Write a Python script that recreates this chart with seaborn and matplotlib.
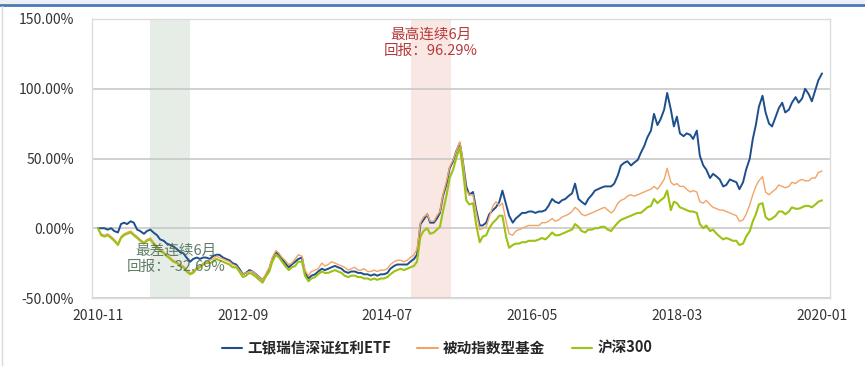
import pandas as pd
import matplotlib.pyplot as plt
import matplotlib.dates as mdates
from matplotlib.lines import Line2D
from matplotlib.patches import Rectangle
from matplotlib.ticker import FuncFormatter
import seaborn as sns

# half-monthly samples (1st and 15th), 2010-11 .. 2020-01
dates = pd.date_range("2010-11-01", "2020-01-01", freq="SMS")

# cumulative return (%)
etf = [0, 0, 0, -1, 0, -2, -3, 3, 4, 3,
       5, 4, -1, -2, -4, -2, -1, -3, -5, -8,
       -9, -11, -12, -13, -15, -17, -18, -21, -24, -22,
       -21, -22, -21, -21, -22, -20, -19, -19, -21, -22,
       -23, -25, -26, -29, -33, -32, -30, -31, -33, -35,
       -37, -34, -29, -22, -17, -19, -22, -25, -28, -26,
       -24, -22, -21, -32, -36, -34, -33, -31, -29, -30,
       -29, -28, -27, -28, -29, -31, -32, -31, -31, -32,
       -32, -33, -33, -34, -33, -34, -33, -33, -32, -29,
       -27, -26, -26, -26, -26, -24, -22, -19, 3, 6,
       10, 4, 4, 7, 11, 23, 32, 43, 48, 55,
       61, 48, 30, 24, 26, 14, 2, 2, 4, 10,
       13, 15, 19, 27, 17, 9, 4, 7, 9, 11,
       11, 12, 12, 11, 12, 12, 13, 16, 21, 19,
       18, 20, 21, 23, 25, 32, 21, 19, 17, 21,
       24, 27, 28, 29, 30, 30, 30, 32, 38, 45,
       47, 48, 45, 47, 49, 54, 59, 65, 70, 82,
       74, 78, 85, 97, 85, 73, 80, 68, 66, 68,
       67, 64, 70, 52, 45, 42, 36, 39, 37, 35,
       30, 31, 35, 34, 33, 28, 33, 42, 50, 64,
       74, 87, 95, 83, 75, 73, 80, 86, 90, 83,
       85, 90, 94, 90, 93, 100, 96, 91, 99, 106,
       111]
passive = [0, -4, -5, -4, -6, -8, -11, -6, -4, -3,
           -2, -4, -6, -8, -10, -8, -7, -10, -13, -15,
           -17, -19, -21, -23, -24, -26, -27, -30, -32, -31,
           -28, -27, -25, -24, -23, -22, -20, -21, -22, -23,
           -24, -26, -27, -30, -33, -32, -31, -31, -33, -35,
           -37, -33, -28, -21, -16, -18, -21, -23, -26, -25,
           -22, -19, -20, -30, -34, -31, -30, -29, -25, -27,
           -26, -24, -25, -26, -27, -28, -30, -29, -28, -30,
           -30, -29, -31, -31, -30, -31, -30, -30, -29, -26,
           -24, -23, -23, -24, -23, -21, -19, -15, 4, 8,
           10, 5, 5, 9, 12, 24, 34, 44, 49, 55,
           62, 49, 27, 24, 24, 12, -1, 0, 1, 8,
           16, 19, 16, 18, 5, -4, -5, -2, -1, 0,
           1, 2, 2, 2, 2, 4, 4, 5, 7, 5,
           6, 8, 9, 10, 12, 15, 13, 10, 9, 10,
           11, 12, 13, 14, 15, 13, 11, 13, 18, 20,
           21, 23, 24, 23, 24, 25, 26, 27, 28, 30,
           28, 31, 35, 43, 33, 31, 32, 30, 30, 28,
           26, 27, 26, 19, 18, 20, 17, 15, 14, 13,
           13, 12, 11, 10, 9, 5, 6, 10, 17, 24,
           30, 34, 37, 26, 24, 26, 28, 31, 30, 29,
           30, 33, 32, 34, 35, 34, 34, 36, 36, 40,
           41]
hs300 = [0, -5, -6, -5, -7, -9, -12, -7, -5, -4,
         -3, -5, -7, -9, -11, -9, -8, -11, -14, -16,
         -18, -20, -22, -24, -25, -27, -28, -31, -33, -32,
         -29, -28, -26, -25, -25, -24, -22, -23, -24, -25,
         -26, -28, -28, -31, -35, -34, -32, -33, -35, -37,
         -39, -35, -31, -24, -19, -21, -24, -27, -30, -28,
         -27, -24, -24, -34, -38, -36, -35, -33, -31, -32,
         -32, -31, -30, -31, -32, -34, -35, -34, -34, -35,
         -35, -36, -36, -37, -36, -37, -36, -36, -35, -33,
         -31, -30, -29, -30, -29, -28, -27, -24, -6, -2,
         0, -4, -3, -1, 1, 12, 24, 36, 42, 50,
         58, 42, 20, 17, 18, 3, -10, -6, -5, 0,
         4, 6, 9, 9, -6, -14, -12, -11, -11, -10,
         -10, -9, -9, -9, -8, -7, -8, -6, -3, -5,
         -5, -4, -3, -2, -1, 3, 1, -2, -3, -1,
         -1, 0, 0, 1, 1, -1, -2, 1, 4, 6,
         7, 8, 9, 10, 11, 11, 13, 15, 16, 21,
         18, 20, 22, 27, 13, 19, 18, 15, 14, 13,
         12, 12, 11, 3, 0, 2, -2, -1, -4, -6,
         -8, -7, -8, -9, -9, -12, -11, -6, -2, 5,
         10, 17, 18, 8, 6, 7, 9, 12, 12, 10,
         12, 15, 14, 14, 15, 16, 16, 15, 17, 19,
         20]

names = ["工银瑞信深证红利ETF", "被动指数型基金", "沪深300"]
colors = ["#1d4f8c", "#f2a467", "#9cc214"]
widths = [1.4, 1.0, 1.5]
tick_dates = ["2010-11", "2012-09", "2014-07", "2016-05", "2018-03", "2020-01"]

assert len(etf) == len(passive) == len(hs300) == len(dates)

df = pd.DataFrame({"date": dates, names[0]: etf, names[1]: passive, names[2]: hs300})
long_df = df.melt(id_vars="date", var_name="series", value_name="ret")

sns.set_style("white")
plt.rcParams["font.family"] = ["Noto Sans CJK SC", "DejaVu Sans"]

fig = plt.figure(figsize=(8.65, 3.66), dpi=100)
ax = fig.add_axes([92 / 865, 1 - 298 / 366, 738 / 865, 279 / 366])

# best / worst 6-month windows
ax.axvspan(pd.Timestamp("2011-07-01"), pd.Timestamp("2012-01-01"), color="#e5ede6", zorder=0, lw=0)
ax.axvspan(pd.Timestamp("2014-10-20"), pd.Timestamp("2015-04-20"), color="#f9e7e4", zorder=0, lw=0)

sns.lineplot(data=long_df, x="date", y="ret", hue="series", hue_order=names,
             palette=colors, ax=ax, legend=False)
for line, w in zip(ax.lines, widths):
    line.set_linewidth(w)

ax.set_ylim(-50, 150)
ax.set_yticks([-50, 0, 50, 100, 150])
ax.yaxis.set_major_formatter(FuncFormatter(lambda v, p: f"{v:.2f}%"))
ax.set_xlim(pd.Timestamp("2010-10-04"), pd.Timestamp("2020-02-07"))
ax.set_xticks(pd.to_datetime(tick_dates))
ax.xaxis.set_major_formatter(mdates.DateFormatter("%Y-%m"))
ax.set_xlabel("")
ax.set_ylabel("")

ax.grid(axis="y", color="#c8c8c8", lw=1.2)
ax.set_axisbelow(True)
for s in ax.spines.values():
    s.set_color("#dcdcdc")
    s.set_linewidth(1)
ax.tick_params(axis="x", length=5, color="#c8c8c8", pad=3, labelsize=10, labelcolor="#333333")
ax.tick_params(axis="y", length=0, pad=13, labelsize=10, labelcolor="#333333")

ax.text(pd.Timestamp("2015-01-18"), 133, "最高连续6月\n回报：96.29%", color="#b53a3a",
        fontsize=10.5, ha="center", va="center", linespacing=1.25)
ax.text(pd.Timestamp("2011-10-28"), -22, "最差连续6月\n回报：-32.69%", color="#4f6f56",
        fontsize=10.5, ha="center", va="center", linespacing=1.25, alpha=0.9)

handles = [Line2D([], [], color=c, lw=1.5) for c in colors]
fig.legend(handles, names, loc="center", bbox_to_anchor=(437 / 865, 1 - 348 / 366),
           ncol=3, frameon=False, handlelength=1.4, handletextpad=0.35, columnspacing=1.8,
           prop={"size": 10.5, "weight": "bold"})

# page frame bits
fig.add_artist(Rectangle((0, 1 - 4 / 366), 1, 4 / 366, transform=fig.transFigure,
                         color="#eceff3", lw=0))
fig.add_artist(Line2D([0, 1], [1 - 5 / 366] * 2, transform=fig.transFigure, color="#4a78b4", lw=2))
fig.add_artist(Line2D([2 / 865] * 2, [0, 1 - 6 / 366], transform=fig.transFigure, color="#dadada", lw=1))

fig.savefig("out.png", dpi=100)
